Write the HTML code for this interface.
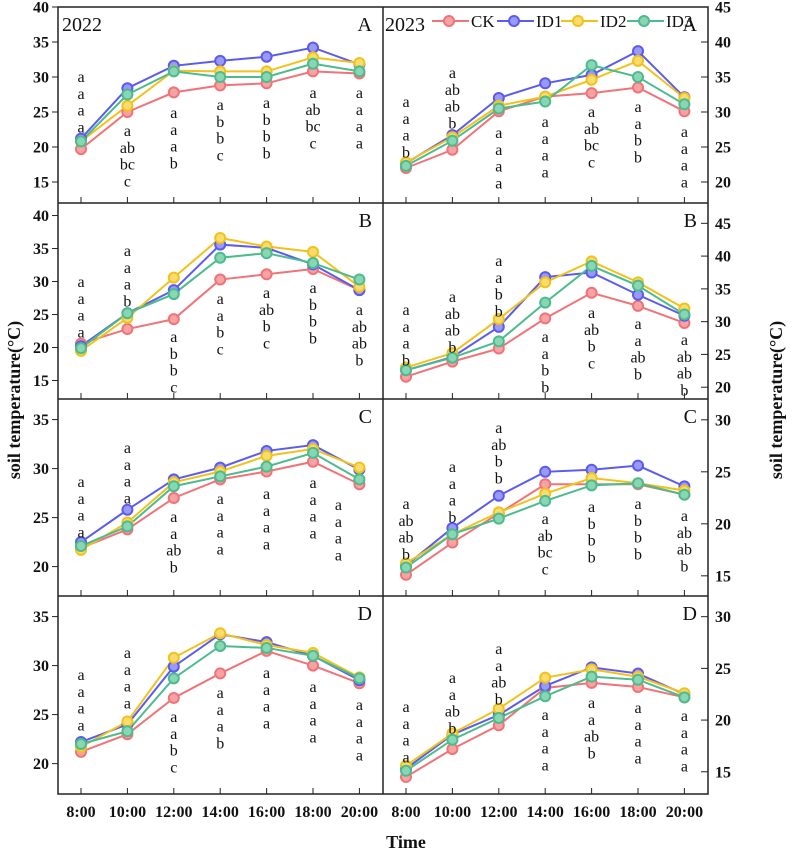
<!DOCTYPE html>
<html><head><meta charset="utf-8"><style>
html,body{margin:0;padding:0;background:#fff;}
svg{display:block;font-family:"Liberation Serif",serif;}
svg text{font-family:"Liberation Serif",serif;}
</style></head><body>
<svg id="chart" width="794" height="850" viewBox="0 0 794 850" xmlns="http://www.w3.org/2000/svg" font-family="Liberation Serif, serif"></svg>
<script>
// ---- data ----
const categories = ["8:00","10:00","12:00","14:00","16:00","18:00","20:00"];
const seriesNames = ["CK","ID1","ID2","ID3"];
// Panel A 2022
const A22_CK  = [19.7,25.0,27.8,28.8,29.1,30.8,30.5];
const A22_ID1 = [21.2,28.4,31.6,32.3,32.9,34.2,31.8];
const A22_ID2 = [20.8,25.9,30.9,30.8,30.8,32.8,32.0];
const A22_ID3 = [20.8,27.5,30.8,30.0,30.0,31.9,30.8];
// Panel A 2023
const A23_CK  = [22.0,24.6,30.1,32.2,32.7,33.5,30.1];
const A23_ID1 = [22.7,26.7,32.0,34.1,35.3,38.7,32.1];
const A23_ID2 = [22.8,26.4,30.9,32.2,34.6,37.3,32.0];
const A23_ID3 = [22.3,25.9,30.5,31.5,36.7,35.0,31.1];
// Panel B 2022
const B22_CK  = [20.6,22.8,24.3,30.3,31.1,31.9,28.7];
const B22_ID1 = [20.2,25.2,28.7,35.6,35.1,32.6,28.7];
const B22_ID2 = [19.5,24.5,30.6,36.6,35.3,34.5,29.2];
const B22_ID3 = [19.9,25.2,28.1,33.6,34.3,32.8,30.3];
// Panel B 2023
const B23_CK  = [21.6,23.9,25.9,30.5,34.4,32.4,29.8];
const B23_ID1 = [22.6,24.6,29.2,36.8,37.5,34.1,30.9];
const B23_ID2 = [23.0,25.2,30.4,36.0,39.2,36.0,32.0];
const B23_ID3 = [22.6,24.5,27.0,32.9,38.5,35.5,31.1];
// Panel C 2022
const C22_CK  = [21.9,23.8,27.0,28.9,29.7,30.7,28.4];
const C22_ID1 = [22.5,25.8,28.9,30.1,31.8,32.4,29.9];
const C22_ID2 = [21.7,24.5,28.6,29.7,31.3,32.0,30.1];
const C22_ID3 = [22.1,24.1,28.2,29.2,30.2,31.6,28.9];
// Panel C 2023
const C23_CK  = [15.1,18.2,21.0,23.8,23.8,23.8,22.8];
const C23_ID1 = [16.0,19.6,22.7,25.0,25.2,25.6,23.6];
const C23_ID2 = [16.2,19.0,21.1,22.9,24.4,23.9,23.2];
const C23_ID3 = [15.8,19.0,20.5,22.2,23.7,23.9,22.8];
// Panel D 2022
const D22_CK  = [21.2,23.0,26.7,29.2,31.5,30.0,28.2];
const D22_ID1 = [22.2,24.0,29.9,33.2,32.4,31.0,28.5];
const D22_ID2 = [21.7,24.3,30.8,33.3,32.1,31.3,28.8];
const D22_ID3 = [22.0,23.3,28.7,32.0,31.8,31.0,28.7];
// Panel D 2023
const D23_CK  = [14.5,17.2,19.5,23.1,23.6,23.2,22.2];
const D23_ID1 = [15.3,18.6,20.5,23.3,25.1,24.5,22.5];
const D23_ID2 = [15.6,18.7,21.1,24.1,24.9,24.2,22.6];
const D23_ID3 = [15.1,18.1,20.2,22.3,24.2,23.9,22.2];
// significance letters
const A22_letters = [["a","a","a","a"],["a","ab","bc","c"],["a","a","a","b"],["a","b","b","c"],["a","b","b","b"],["a","ab","bc","c"],["a","a","a","a"]];
const A23_letters = [["a","a","a","b"],["a","ab","ab","b"],["a","a","a","a"],["a","a","a","a"],["a","ab","bc","c"],["a","a","b","b"],["a","a","a","a"]];
const B22_letters = [["a","a","a","a"],["a","a","a","b"],["a","b","b","c"],["a","a","b","c"],["a","ab","b","c"],["a","b","b","b"],["a","ab","ab","b"]];
const B23_letters = [["a","a","a","b"],["a","ab","ab","b"],["a","a","b","b"],["a","a","b","b"],["a","ab","b","c"],["a","a","ab","b"],["a","ab","ab","b"]];
const C22_letters = [["a","a","a","a"],["a","a","a","a"],["a","a","ab","b"],["a","a","a","a"],["a","a","a","a"],["a","a","a","a"],["a","a","a","a"]];
const C23_letters = [["a","ab","ab","b"],["a","a","a","b"],["a","ab","b","b"],["a","ab","bc","c"],["a","b","b","b"],["a","b","b","b"],["a","ab","ab","b"]];
const D22_letters = [["a","a","a","a"],["a","a","a","a"],["a","a","b","c"],["a","a","a","b"],["a","a","a","a"],["a","a","a","a"],["a","a","a","a"]];
const D23_letters = [["a","a","a","a"],["a","a","ab","b"],["a","a","ab","b"],["a","a","a","a"],["a","a","ab","b"],["a","a","a","a"],["a","a","a","a"]];
const leftTicksAB = [15,20,25,30,35,40];
const rightTicksAB = [20,25,30,35,40,45];
const leftTicksCD = [20,25,30,35];
const rightTicksCD = [15,20,25,30];

// ---- layout ----
const FONT = "Liberation Serif, serif";
const colors = ["#f07378","#5b5bef","#f2c21a","#4cbb8e"];
const fills  = ["#f6a3a6","#9a9af6","#f8dc70","#8ad6b4"];
const panels = [
 {id:"a-2022",side:"L",top:7,bot:203,yMin:12,yMax:40,ticks:leftTicksAB,series:[A22_CK,A22_ID1,A22_ID2,A22_ID3],letters:A22_letters,ltops:[72,126,108,100,98,88,88],lbl:"A",year:"2022"},
 {id:"a-2023",side:"R",top:7,bot:203,yMin:17,yMax:45,ticks:rightTicksAB,series:[A23_CK,A23_ID1,A23_ID2,A23_ID3],letters:A23_letters,ltops:[97,68,128,117,107,102,127],lbl:"A",year:"2023"},
 {id:"b-2022",side:"L",top:203,bot:399,yMin:12.2,yMax:41.9,ticks:leftTicksAB,series:[B22_CK,B22_ID1,B22_ID2,B22_ID3],letters:B22_letters,ltops:[277,246,332,294,288,283,305],lbl:"B"},
 {id:"b-2023",side:"R",top:203,bot:399,yMin:18.2,yMax:48.1,ticks:rightTicksAB,series:[B23_CK,B23_ID1,B23_ID2,B23_ID3],letters:B23_letters,ltops:[305,292,256,332,308,319,335],lbl:"B"},
 {id:"c-2022",side:"L",top:399,bot:596,yMin:17,yMax:37.1,ticks:leftTicksCD,series:[C22_CK,C22_ID1,C22_ID2,C22_ID3],letters:C22_letters,ltops:[477,443,512,494,489,478,500],lbl:"C",shift20:-21},
 {id:"c-2023",side:"R",top:399,bot:596,yMin:13.06,yMax:32.0,ticks:rightTicksCD,series:[C23_CK,C23_ID1,C23_ID2,C23_ID3],letters:C23_letters,ltops:[499,462,423,514,502,499,511],lbl:"C"},
 {id:"d-2022",side:"L",top:596,bot:794,yMin:16.9,yMax:37.1,ticks:leftTicksCD,series:[D22_CK,D22_ID1,D22_ID2,D22_ID3],letters:D22_letters,ltops:[670,648,712,688,668,682,700],lbl:"D"},
 {id:"d-2023",side:"R",top:596,bot:794,yMin:12.85,yMax:32.0,ticks:rightTicksCD,series:[D23_CK,D23_ID1,D23_ID2,D23_ID3],letters:D23_letters,ltops:[702,673,644,710,698,703,711],lbl:"D"}
];
const L0=58, MID=383, R1=708;
const NS="http://www.w3.org/2000/svg";
const svg=document.getElementById("chart");
function mk(tag,attrs,parent){const e=document.createElementNS(NS,tag);for(const k in attrs)e.setAttribute(k,attrs[k]);if(tag==="text")e.setAttribute("font-family",FONT);(parent||svg).appendChild(e);return e;}
function xScale(side,i){return (side==="L"?81:406)+i*46.4;}

panels.forEach(p=>{
  const g=mk("g",{});
  
  
  const yS=v=>p.bot-(v-p.yMin)/(p.yMax-p.yMin)*(p.bot-p.top);
  categories.forEach((c,i)=>{
    const t=mk("line",{x1:xScale(p.side,i),x2:xScale(p.side,i),y1:p.bot,y2:p.bot-6,stroke:"#222","stroke-width":1},g);
    
    
  });
  p.ticks.forEach(v=>{
    const y=yS(v);
    if(p.side==="L"){
      const t=mk("line",{x1:L0-6,x2:L0,y1:y,y2:y,stroke:"#222","stroke-width":1},g);
      
      
      const tx=mk("text",{x:49,y:y+5.5,"text-anchor":"end","font-size":16,"font-weight":"bold",fill:"#111"},g);
      tx.textContent=v;
      
      
    } else {
      const t=mk("line",{x1:R1-7,x2:R1,y1:y,y2:y,stroke:"#222","stroke-width":1},g);
      
      
      const tx=mk("text",{x:715,y:y+5.5,"text-anchor":"start","font-size":16,"font-weight":"bold",fill:"#111"},g);
      tx.textContent=v;
      
      
    }
  });
  p.series.forEach((vals,s)=>{
    const pts=vals.map((v,i)=>xScale(p.side,i)+","+yS(v)).join(" ");
    const pl=mk("polyline",{points:pts,fill:"none",stroke:colors[s],"stroke-width":2},g);
    
    
  });
  p.series.forEach((vals,s)=>{
    vals.forEach((v,i)=>{
      const c=mk("circle",{cx:xScale(p.side,i),cy:yS(v),r:5,fill:fills[s],stroke:colors[s],"stroke-width":2},g);
      
      
    });
  });
  p.letters.forEach((arr,i)=>{
    let x=xScale(p.side,i);
    if(i===6&&p.shift20)x+=p.shift20;
    arr.forEach((l,k)=>{
      const t=mk("text",{x:x,y:p.ltops[i]+k*16.8+10,"text-anchor":"middle","font-size":16,fill:"#111"},g);
      t.textContent=l;
      
      
    });
  });
  const lx=p.side==="L"?372:697;
  const pl=mk("text",{x:lx,y:p.top+24,"text-anchor":"end","font-size":20,fill:"#111"},g);
  pl.textContent=p.lbl;
  
  
  if(p.year){
    const yt=mk("text",{x:p.side==="L"?62:385,y:p.top+24,"font-size":20,fill:"#111"},g);
    yt.textContent=p.year;
    
    
  }
});
const f=mk("rect",{x:L0,y:7,width:R1-L0,height:787,fill:"none",stroke:"#222","stroke-width":1.5});


const mid=mk("line",{x1:MID,x2:MID,y1:7,y2:794,stroke:"#222","stroke-width":1.5});


[203,399,596].forEach(y=>{
  const l=mk("line",{x1:L0,x2:R1,y1:y,y2:y,stroke:"#222","stroke-width":1.5});
  
  
});
["L","R"].forEach(side=>{
  categories.forEach((c,i)=>{
    const t=mk("text",{x:xScale(side,i),y:817,"text-anchor":"middle","font-size":16,"font-weight":"bold",fill:"#111"});
    t.textContent=c;
    
    
  });
});
const xt=mk("text",{x:406,y:848,"text-anchor":"middle","font-size":18,"font-weight":"bold",fill:"#111"});
xt.textContent="Time";


const yl=mk("text",{x:0,y:0,"text-anchor":"middle","font-size":18,"font-weight":"bold",fill:"#111",transform:"translate(20,400) rotate(-90)"});
yl.textContent="soil temperature(°C)";


const yr=mk("text",{x:0,y:0,"text-anchor":"middle","font-size":18,"font-weight":"bold",fill:"#111",transform:"translate(782,400) rotate(-90)"});
yr.textContent="soil temperature(°C)";


const lg=mk("g",{});


const legX=[432,497,561,627];
seriesNames.forEach((n,s)=>{
  const x0=legX[s];
  const ln=mk("line",{x1:x0,x2:x0+37,y1:21,y2:21,stroke:colors[s],"stroke-width":2},lg);
  
  
  const c=mk("circle",{cx:x0+17,cy:21,r:5,fill:fills[s],stroke:colors[s],"stroke-width":2},lg);
  
  
  const t=mk("text",{x:x0+39,y:27,"font-size":17,fill:"#111"},lg);
  t.textContent=n;
  
  
});
</script>
</body></html>
